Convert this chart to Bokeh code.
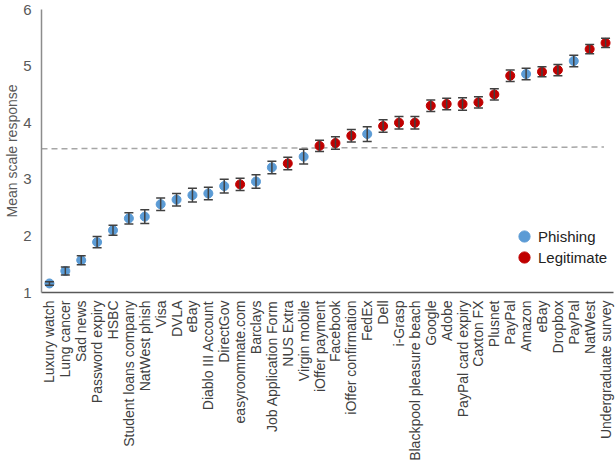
import math
from bokeh.plotting import figure
from bokeh.models import (ColumnDataSource, FixedTicker, Whisker, TeeHead,
                          Legend, LegendItem)
from bokeh.embed import file_html
from bokeh.resources import INLINE

# ---- data ----
labels = ["Luxury watch", "Lung cancer", "Sad news", "Password expiry", "HSBC",
          "Student loans company", "NatWest phish", "Visa", "DVLA", "eBay",
          "Diablo III Account", "DirectGov", "easyroommate.com", "Barclays",
          "Job Application Form", "NUS Extra", "Virgin mobile", "iOffer payment",
          "Facebook", "iOffer confirmation", "FedEx", "Dell", "i-Grasp",
          "Blackpool pleasure beach", "Google", "Adobe", "PayPal card expiry",
          "Caxton FX", "Plusnet", "PayPal", "Amazon", "eBay", "Dropbox",
          "PayPal", "NatWest", "Undergraduate survey"]
kinds = ["P", "P", "P", "P", "P", "P", "P", "P", "P", "P", "P", "P", "L", "P",
         "P", "L", "P", "L", "L", "L", "P", "L", "L", "L", "L", "L", "L", "L",
         "L", "L", "P", "L", "L", "P", "L", "L"]
means = [1.16, 1.38, 1.57, 1.89, 2.10, 2.31, 2.34, 2.56, 2.64, 2.72, 2.75, 2.88,
         2.91, 2.96, 3.21, 3.28, 3.40, 3.59, 3.64, 3.77, 3.80, 3.94, 4.00, 4.00,
         4.30, 4.33, 4.33, 4.36, 4.50, 4.83, 4.86, 4.90, 4.93, 5.09, 5.30, 5.41]
errors = [0.03, 0.07, 0.08, 0.10, 0.09, 0.10, 0.12, 0.11, 0.11, 0.12, 0.11, 0.12,
          0.11, 0.12, 0.11, 0.11, 0.13, 0.10, 0.11, 0.11, 0.13, 0.11, 0.11, 0.11,
          0.10, 0.10, 0.11, 0.10, 0.10, 0.10, 0.10, 0.09, 0.10, 0.10, 0.08, 0.08]
ref_x = [0.5, 35.9]
ref_y = [3.54, 3.57]
y_ticks = [1, 2, 3, 4, 5, 6]

BLUE = "#5B9BD5"
RED = "#C00000"
FONT = "Liberation Sans"

xs = list(range(1, len(labels) + 1))
colors = [BLUE if k == "P" else RED for k in kinds]
src = ColumnDataSource(dict(
    x=xs, y=means, color=colors,
    upper=[m + e for m, e in zip(means, errors)],
    lower=[m - e for m, e in zip(means, errors)],
))
ph = ColumnDataSource({k: [v for v, kk in zip(src.data[k], kinds) if kk == "P"] for k in src.data})
lg = ColumnDataSource({k: [v for v, kk in zip(src.data[k], kinds) if kk == "L"] for k in src.data})

p = figure(width=615, height=463, x_range=(0.5, 36.5), y_range=(1, 6),
           output_backend="svg", toolbar_location=None,
           min_border_left=41, min_border_right=2, min_border_top=9,
           min_border_bottom=171)
p.outline_line_color = None
p.xgrid.visible = False
p.ygrid.visible = False

# reference dashed line
p.line(ref_x, ref_y, line_color="#A6A6A6", line_width=1.5, line_dash="6 4")

# error bars
w = Whisker(base="x", upper="upper", lower="lower", source=src,
            line_color="#404040", line_width=1.5, level="glyph",
            upper_head=TeeHead(size=9, line_color="#404040", line_width=1.5),
            lower_head=TeeHead(size=9, line_color="#404040", line_width=1.5))
p.add_layout(w)

r_ph = p.scatter("x", "y", source=ph, size=9, fill_color=BLUE, line_color=BLUE)
r_lg = p.scatter("x", "y", source=lg, size=9, fill_color=RED, line_color=RED)

# axes
p.xaxis.ticker = FixedTicker(ticks=xs)
p.xaxis.major_label_overrides = {i: lab for i, lab in zip(xs, labels)}
p.xaxis.major_label_orientation = math.pi / 2
p.xaxis.major_label_text_font = FONT
p.xaxis.major_label_text_font_size = "14px"
p.xaxis.major_label_text_color = "#404040"
p.xaxis.major_label_standoff = 8
p.xaxis.major_tick_out = 0
p.xaxis.major_tick_in = 0
p.xaxis.major_tick_line_color = None
p.xaxis.minor_tick_line_color = None
p.xaxis.axis_line_color = "#595959"
p.xaxis.axis_line_width = 1.5

p.yaxis.ticker = FixedTicker(ticks=y_ticks)
p.yaxis.major_label_text_font = FONT
p.yaxis.major_label_text_font_size = "15px"
p.yaxis.major_label_text_color = "#595959"
p.yaxis.major_label_standoff = 10
p.yaxis.major_tick_out = 0
p.yaxis.major_tick_in = 0
p.yaxis.major_tick_line_color = None
p.yaxis.minor_tick_line_color = None
p.yaxis.axis_line_color = "#8C8C8C"
p.yaxis.axis_line_width = 1.5
p.yaxis.axis_label = "Mean scale response"
p.yaxis.axis_label_text_font = FONT
p.yaxis.axis_label_text_font_size = "14px"
p.yaxis.axis_label_text_font_style = "normal"
p.yaxis.axis_label_text_color = "#595959"
p.yaxis.axis_label_standoff = 0

common = dict(orientation="vertical", glyph_width=28, glyph_height=28,
              label_height=21, spacing=0, padding=0, margin=0,
              label_standoff=0, label_text_font=FONT,
              label_text_font_size="15px", label_text_color="#222222",
              border_line_alpha=0, background_fill_alpha=0)
leg1 = Legend(items=[LegendItem(label="Phishing", renderers=[r_ph])],
              location=(469, 42), **common)
leg2 = Legend(items=[LegendItem(label="Legitimate", renderers=[r_lg])],
              location=(469, 21), **common)
p.add_layout(leg1)
p.add_layout(leg2)

open("out.html", "w").write(file_html(p, INLINE))
